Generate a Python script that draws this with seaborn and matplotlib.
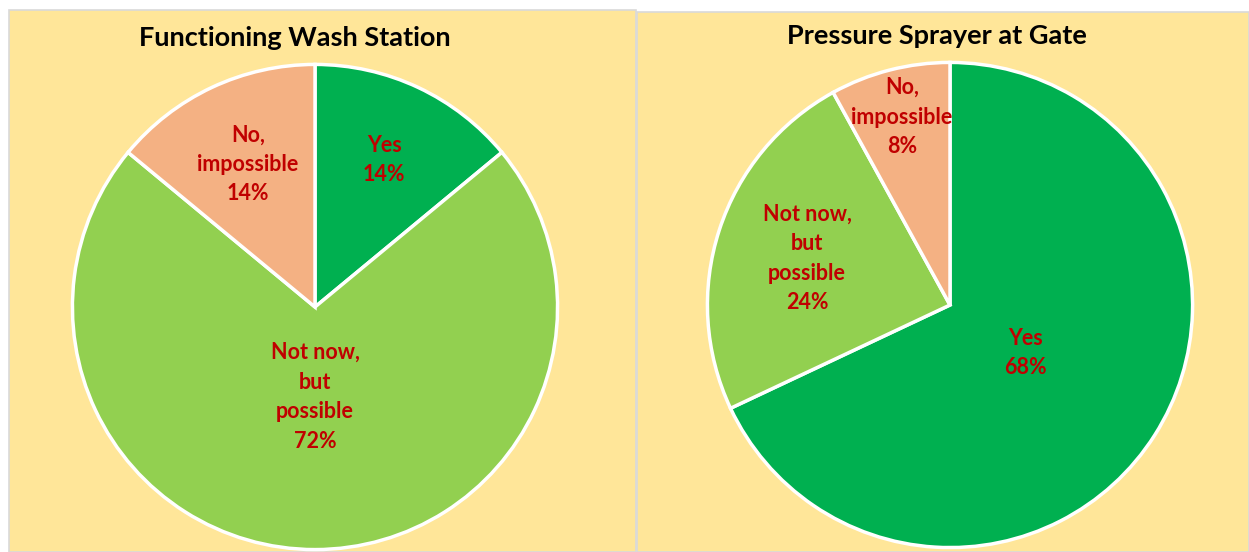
import matplotlib
matplotlib.use("Agg")
import numpy as np
import matplotlib.pyplot as plt
import matplotlib.patches as mpatches
import seaborn as sns

# data
categories = ["Yes", "Not now,\nbut\npossible", "No,\nimpossible"]
wash_station = [14, 72, 14]
pressure_sprayer = [68, 24, 8]
titles = ["Functioning Wash Station", "Pressure Sprayer at Gate"]

sns.set_theme(style="white")
plt.rcParams['font.family'] = ['Lato', 'DejaVu Sans']

colors = ["#00B050", "#92D050", "#F4B183"]
bg = "#FFE699"
label_color = "#C00000"

W, H = 1249, 552
fig = plt.figure(figsize=(W / 100, H / 100), dpi=100)
fig.patch.set_facecolor("white")

# panel backgrounds (pixels: x0, y_top, x1, y_bottom)
panels = [(9, 10, 636, 552), (637, 12, 1249, 552)]
for x0, y0, x1, y1 in panels:
    fig.patches.append(mpatches.Rectangle((x0 / W, 1 - y1 / H), (x1 - x0) / W, (y1 - y0) / H,
                                          transform=fig.transFigure, facecolor=bg,
                                          edgecolor="#D9D9D9", linewidth=1.2, zorder=-5))

# pie centers in pixels and label distance per wedge
centers = [(315, 307), (950, 305)]
radius = 245
label_dist = [[0.67, 0.37, 0.65], [0.37, 0.62, 0.80]]
title_pos = [(295, 38), (937, 36)]

for k, values in enumerate([wash_station, pressure_sprayer]):
    cx, cy = centers[k]
    ax = fig.add_axes([(cx - radius) / W, (H - cy - radius) / H, 2 * radius / W, 2 * radius / H])
    ax.patch.set_visible(False)
    wedges, _ = ax.pie(values, colors=colors, startangle=90, counterclock=False,
                       radius=1, wedgeprops=dict(edgecolor="white", linewidth=2.5))
    ax.set_xlim(-1.01, 1.01)
    ax.set_ylim(-1.01, 1.01)
    ax.set_aspect("equal")
    ax.axis("off")
    for w, cat, v, d in zip(wedges, categories, values, label_dist[k]):
        ang = np.deg2rad((w.theta1 + w.theta2) / 2)
        ax.text(d * np.cos(ang), d * np.sin(ang), f"{cat}\n{v}%", ha="center", va="center",
                color=label_color, fontsize=15.5, fontweight="bold", linespacing=1.5)
    tx, ty = title_pos[k]
    fig.text(tx / W, 1 - ty / H, titles[k], ha="center", va="center",
             fontsize=19.5, fontweight="bold", color="black")

fig.savefig("out.png", dpi=100)
